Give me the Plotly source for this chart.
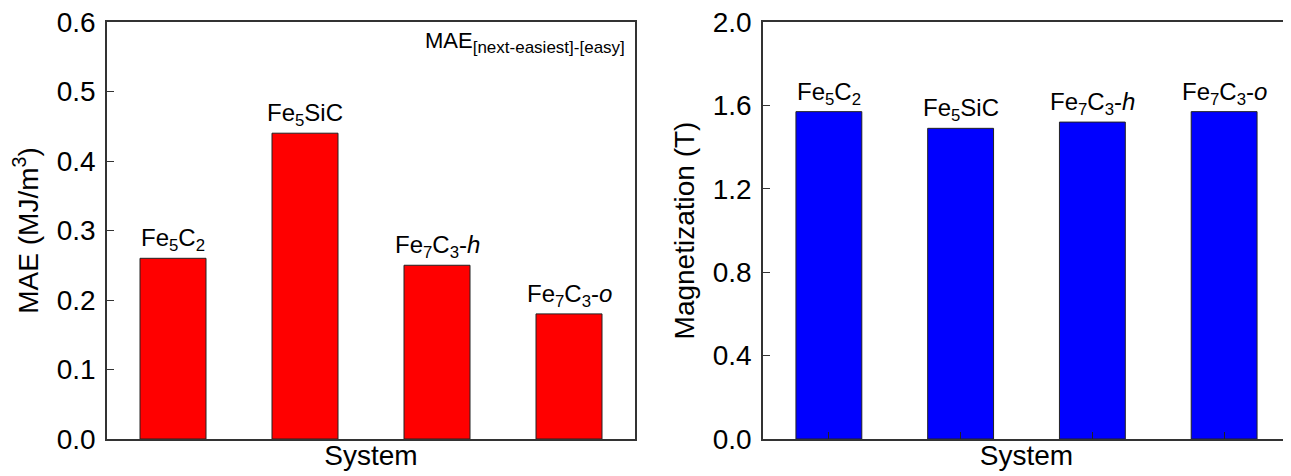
import plotly.graph_objects as go

systems = ["Fe5C2", "Fe5SiC", "Fe7C3-h", "Fe7C3-o"]
system_labels = ["Fe<sub>5</sub>C<sub>2</sub>", "Fe<sub>5</sub>SiC",
                 "Fe<sub>7</sub>C<sub>3</sub>-<i>h</i>", "Fe<sub>7</sub>C<sub>3</sub>-<i>o</i>"]
mae_values = [0.26, 0.44, 0.25, 0.18]
mag_values = [1.57, 1.49, 1.52, 1.57]
mae_ticks = [0.0, 0.1, 0.2, 0.3, 0.4, 0.5, 0.6]
mag_ticks = [0.0, 0.4, 0.8, 1.2, 1.6, 2.0]

FONT = "Liberation Sans, Arial, sans-serif"
W, H = 1283, 468  # page body adds an 8px offset

fig = go.Figure()
fig.add_trace(go.Bar(x=systems, y=mae_values, width=0.5,
                     marker=dict(color="#ff0000", line=dict(color="#222", width=1)),
                     xaxis="x", yaxis="y", showlegend=False))
fig.add_trace(go.Bar(x=systems, y=mag_values, width=0.5,
                     marker=dict(color="#0000ff", line=dict(color="#222", width=1)),
                     xaxis="x2", yaxis="y2", showlegend=False))

ann = []
for s, lab, v in zip(systems, system_labels, mae_values):
    ann.append(dict(x=s, y=v, xref="x", yref="y", text=lab, showarrow=False, yanchor="bottom", yshift=1,
                    font=dict(size=24, color="black", family=FONT)))
for s, lab, v in zip(systems, system_labels, mag_values):
    ann.append(dict(x=s, y=v, xref="x2", yref="y2", text=lab, showarrow=False, yanchor="bottom", yshift=1,
                    font=dict(size=24, color="black", family=FONT)))
ann.append(dict(x=0.985, y=0.99, xref="x domain", yref="y domain", xanchor="right", yanchor="top", showarrow=False,
                text="MAE<sub><span style='font-size:17px'>[next-easiest]-[easy]</span></sub>",
                font=dict(size=22, color="black", family=FONT)))

axis_common = dict(showline=True, linecolor="#333", linewidth=1.5, mirror=True, showgrid=False, zeroline=False)
fig.update_layout(
    width=W, height=H,
    margin=dict(l=0, r=0, t=14, b=37),
    paper_bgcolor="white", plot_bgcolor="white",
    font=dict(family=FONT, color="black"),
    xaxis=dict(domain=[99 / W, 627 / W], range=[-0.5, 3.5], showticklabels=False, ticks="",
               title=dict(text="System", font=dict(size=28), standoff=6), anchor="y", automargin=False,
               **axis_common),
    yaxis=dict(domain=[0, 1], range=[0, 0.6], tickvals=mae_ticks, ticktext=[f"{t:.1f}" for t in mae_ticks],
               tickfont=dict(size=28), ticks="inside", ticklen=7, tickcolor="#333", ticklabelstandoff=4,
               ticklabeloverflow="allow",
               title=dict(text="MAE (MJ/m<sup>3</sup>)", font=dict(size=28), standoff=10),
               anchor="x", automargin=False, **axis_common),
    xaxis2=dict(domain=[755 / W, 1282 / W], range=[-0.5, 3.5], showticklabels=False, ticks="inside", ticklen=7,
                tickcolor="#222", title=dict(text="System", font=dict(size=28), standoff=6), anchor="y2",
                automargin=False, **axis_common),
    yaxis2=dict(domain=[0, 1], range=[0, 2.0], tickvals=mag_ticks, ticktext=[f"{t:.1f}" for t in mag_ticks],
                tickfont=dict(size=28), ticks="inside", ticklen=7, tickcolor="#333", ticklabelstandoff=4,
                ticklabeloverflow="allow",
                title=dict(text="Magnetization (T)", font=dict(size=28), standoff=10),
                anchor="x2", automargin=False, **axis_common),
    annotations=ann,
)
fig.write_html("out.html")
